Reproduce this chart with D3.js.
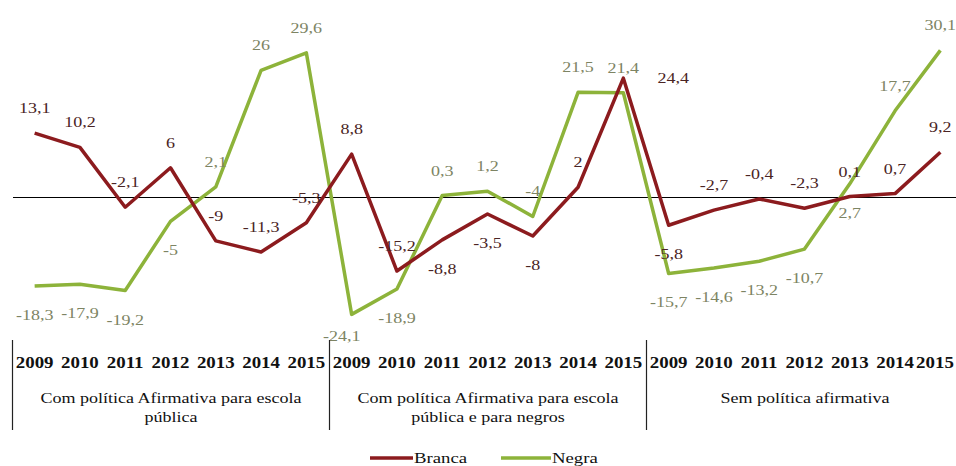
<!DOCTYPE html>
<html><head><meta charset="utf-8">
<script src="https://cdn.jsdelivr.net/npm/d3@7"></script>
</head><body style="margin:0;background:#fff">
<svg id="c" width="956" height="466" style="display:block"></svg>
<script>
const years = ["2009","2010","2011","2012","2013","2014","2015"];
const groups = ["Com política Afirmativa para escola|pública",
                "Com política Afirmativa para escola|pública e para negros",
                "Sem política afirmativa"];
const branca = [13.1,10.2,-2.1,6,-9,-11.3,-5.3, 8.8,-15.2,-8.8,-3.5,-8,2,24.4, -5.8,-2.7,-0.4,-2.3,0.1,0.7,9.2];
const negra  = [-18.3,-17.9,-19.2,-5,2.1,26,29.6, -24.1,-18.9,0.3,1.2,-4,21.5,21.4, -15.7,-14.6,-13.2,-10.7,2.7,17.7,30.1];
const brancaLabels = ["13,1","10,2","-2,1","6","-9","-11,3","-5,3","8,8","-15,2","-8,8","-3,5","-8","2","24,4","-5,8","-2,7","-0,4","-2,3","0,1","0,7","9,2"];
const negraLabels  = ["-18,3","-17,9","-19,2","-5","2,1","26","29,6","-24,1","-18,9","0,3","1,2","-4","21,5","21,4","-15,7","-14,6","-13,2","-10,7","2,7","17,7","30,1"];
// label placement: a = above, b = below, r = right, l = below-left
const brancaPlace = "aaaaaaa"+"aabbbar"+"baaaaaa";
const negraPlace  = "bbbbaaa"+"lbaaaaa"+"bbbbbaa";

const RED = "#8c1b1e", GREEN = "#8db33a";
const RED_T = "#4a2424", GREEN_T = "#7d8463";
const SX = 1.2;

const svg = d3.select("#c");
const idx = d3.range(branca.length);
const x = d3.scaleBand().domain(idx).range([12, 963]);
const cx = i => x(i) + x.bandwidth()/2;
const y = d3.scaleLinear().domain([-25, 31]).range([197 + 25*4.87, 197 - 31*4.87]);

// zero line
const y0 = Math.round(y(0)) + 0.5;
svg.append("line").attr("x1", 13).attr("x2", 956)
  .attr("y1", y0).attr("y2", y0).attr("stroke", "#000").attr("stroke-width", 1);

const line = d3.line().x((d,i) => cx(i)).y(d => y(d));
svg.append("path").datum(negra).attr("d", line).attr("fill","none")
  .attr("stroke", GREEN).attr("stroke-width", 3.5).attr("stroke-linejoin","round");
svg.append("path").datum(branca).attr("d", line).attr("fill","none")
  .attr("stroke", RED).attr("stroke-width", 3.5).attr("stroke-linejoin","round");

function stext(g, tx, ty, str, size, color, weight, sx, anchor) {
  const t = g.append("text")
    .attr("x", tx).attr("y", ty)
    .attr("text-anchor", anchor || "middle")
    .style("font-family", '"Liberation Serif"')
    .attr("font-size", size).attr("font-weight", weight||"normal")
    .attr("fill", color).text(str);
  const w = t.node().getComputedTextLength();
  if (w > 0) t.attr("textLength", w*(sx||SX)).attr("lengthAdjust","spacingAndGlyphs");
  return t;
}

const lab = svg.append("g");
function placeLabels(vals, labels, place, color) {
  vals.forEach((v,i) => {
    const px = cx(i), py = y(v);
    let tx = px, ty;
    const p = place[i];
    if (p === "a") ty = py - 20;
    else if (p === "b") ty = py + 34;
    else if (p === "r") { tx = px + 50; ty = py + 5; }
    else if (p === "l") { tx = px - 10; ty = py + 27; }
    stext(lab, tx, ty, labels[i], 15, color);
  });
}
placeLabels(branca, brancaLabels, brancaPlace, RED_T);
placeLabels(negra, negraLabels, negraPlace, GREEN_T);

// category axis
const ax = svg.append("g");
idx.forEach(i => stext(ax, Math.min(cx(i), 935), 368, years[i % 7], 16, "#111", "bold", 1.18));
const gw = x.step()*7;
[0,1,2].forEach(g => {
  const x0 = Math.round(x(g*7)) + 0.5;
  ax.append("line").attr("x1", x0).attr("x2", x0).attr("y1", 340).attr("y2", 430)
    .attr("stroke","#222").attr("stroke-width",1.2);
  const parts = groups[g].split("|");
  parts.forEach((t,k) => stext(ax, x0 + gw/2, 403 + k*19, t, 15, "#111"));
});

// legend
const lg = svg.append("g");
lg.append("line").attr("x1",370).attr("x2",413).attr("y1",458).attr("y2",458)
  .attr("stroke",RED).attr("stroke-width",3.5);
stext(lg, 414, 463, "Branca", 15, "#111", "normal", 1.25, "start");
lg.append("line").attr("x1",501).attr("x2",551).attr("y1",458).attr("y2",458)
  .attr("stroke",GREEN).attr("stroke-width",3.5);
stext(lg, 552, 463, "Negra", 15, "#111", "normal", 1.25, "start");
</script>
</body></html>
